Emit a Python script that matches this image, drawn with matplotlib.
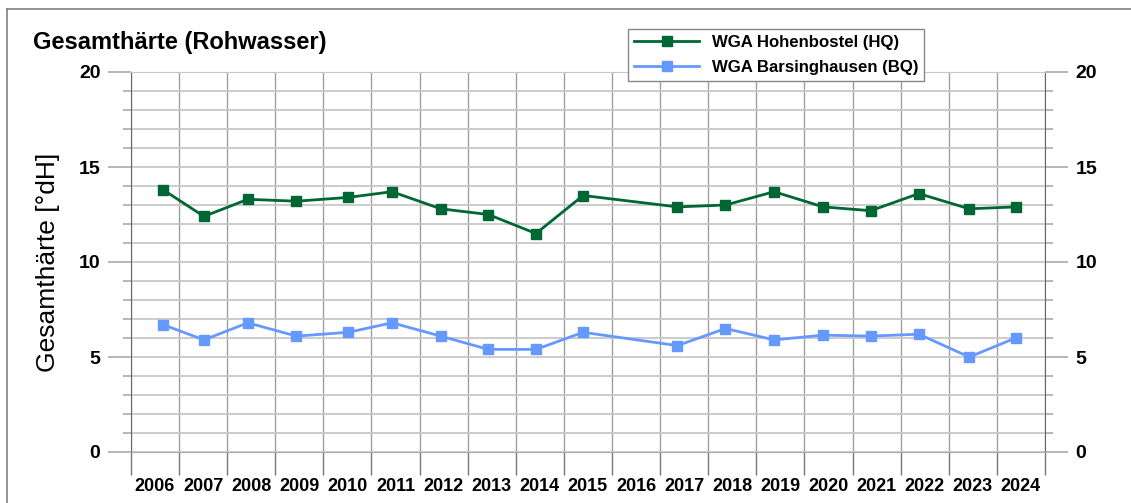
import matplotlib
matplotlib.use("Agg")
import matplotlib.pyplot as plt
import matplotlib.dates as mdates
from matplotlib.ticker import MultipleLocator, NullFormatter
from matplotlib.lines import Line2D
import pandas as pd

plt.rcParams['font.family'] = ['Liberation Sans', 'DejaVu Sans']

# sampling dates (no sample in 2016)
dates = ['2006-09-02', '2007-07-09', '2008-06-06', '2009-06-10', '2010-07-09',
         '2011-06-06', '2012-06-10', '2013-06-06', '2014-06-03', '2015-05-27',
         '2017-05-12', '2018-05-12', '2019-05-16', '2020-05-23', '2021-05-19',
         '2022-05-19', '2023-06-06', '2024-05-23']
hohenbostel = [13.8, 12.4, 13.3, 13.2, 13.4, 13.7, 12.8, 12.5, 11.5, 13.5,
               12.9, 13.0, 13.7, 12.9, 12.7, 13.6, 12.8, 12.9]
barsinghausen = [6.7, 5.9, 6.8, 6.1, 6.3, 6.8, 6.1, 5.4, 5.4, 6.3,
                 5.6, 6.5, 5.9, 6.15, 6.1, 6.2, 5.0, 6.0]
labels = ['WGA Hohenbostel (HQ)', 'WGA Barsinghausen (BQ)']
colors = ['#006633', '#6699ff']

x = pd.to_datetime(dates)

W, H = 1131, 503
fig = plt.figure(figsize=(W / 100, H / 100), dpi=100)
ax = fig.add_axes([131 / W, 1 - 452 / H, (1045 - 131) / W, (452 - 72) / H])

for vals, lab, col in zip([hohenbostel, barsinghausen], labels, colors):
    ax.plot(x, vals, color=col, lw=2.0, marker='s', ms=6.8, label=lab)

ax.set_xlim(pd.Timestamp('2006-01-01'), pd.Timestamp('2025-01-01'))
ax.set_ylim(0, 20)

ax.xaxis.set_major_locator(mdates.YearLocator(1))
ax.xaxis.set_major_formatter(NullFormatter())
ax.xaxis.set_minor_locator(mdates.YearLocator(1, month=7, day=2))
ax.xaxis.set_minor_formatter(mdates.DateFormatter('%Y'))
ax.tick_params(axis='x', which='major', length=16.5, color='#777777', width=1)
ax.tick_params(axis='x', which='minor', length=0, pad=19, labelsize=13)
for t in ax.xaxis.get_minorticklabels():
    t.set_fontweight('bold')

ax.yaxis.set_major_locator(MultipleLocator(5))
ax.yaxis.set_minor_locator(MultipleLocator(1))
ax.tick_params(axis='y', which='both', left=True, right=True,
               labelleft=True, labelright=True, color='#aaaaaa', width=1.2)
ax.tick_params(axis='y', which='major', length=16.5, pad=5.5, labelsize=14)
ax.tick_params(axis='y', which='minor', length=5.8)
for t in ax.yaxis.get_majorticklabels():
    t.set_fontweight('bold')

ax.set_axisbelow(True)
ax.grid(axis='y', which='both', color='#c8c8c8', lw=1.3)
ax.grid(axis='x', which='major', color='#9f9f9f', lw=1)

for s in ['left', 'right']:
    ax.spines[s].set_color('#666666')
ax.spines['top'].set_color('#c8c8c8')
ax.spines['bottom'].set_color('#aaaaaa')

fig.text(33 / W, 1 - 42 / H, 'Gesamthärte (Rohwasser)', fontsize=17,
         fontweight='bold', va='center', ha='left')
fig.text(48 / W, 1 - 262 / H, 'Gesamthärte [°dH]', fontsize=19,
         rotation=90, va='center', ha='center')

leg = fig.legend(loc='upper left', bbox_to_anchor=(628 / W, 1 - 29 / H),
                 borderaxespad=0, fancybox=False, edgecolor='#888888',
                 framealpha=1, handlelength=3.9, handletextpad=0.75,
                 labelspacing=0.62, borderpad=0.35,
                 prop={'weight': 'bold', 'size': 12.1})
leg.get_frame().set_linewidth(1)

# outer border (top and left)
fig.add_artist(Line2D([7 / W, 1], [1 - 9 / H, 1 - 9 / H], transform=fig.transFigure,
                      color='#808080', lw=1.2))
fig.add_artist(Line2D([7 / W, 7 / W], [0, 1 - 9 / H], transform=fig.transFigure,
                      color='#808080', lw=1.2))

fig.savefig('out.png', dpi=100)
